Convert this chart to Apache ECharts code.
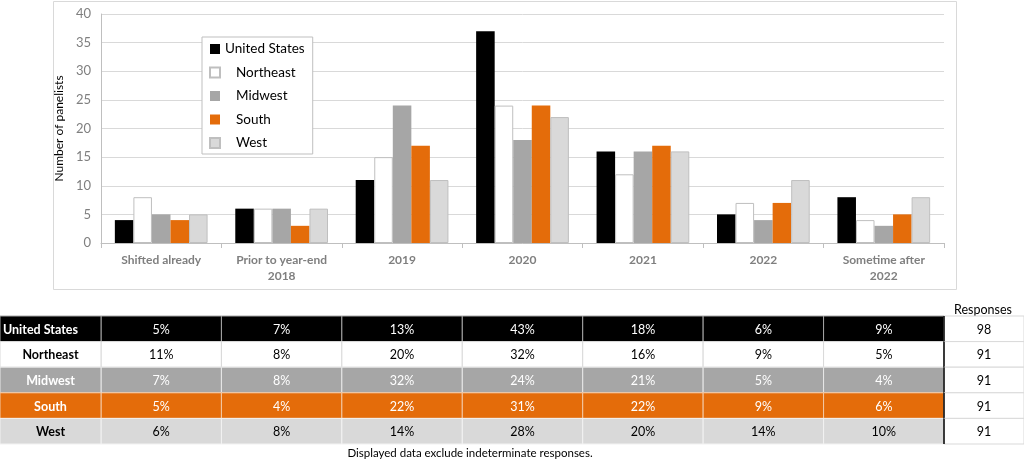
<!DOCTYPE html>
<html><head><meta charset="utf-8">
<script src="https://cdn.jsdelivr.net/npm/echarts@6/dist/echarts.min.js"></script>
<style>html,body{margin:0;padding:0;background:#fff}#c{width:1024px;height:459px}</style>
</head><body><div id="c"></div>
<script>
// ---- data ----
const categories = ['Shifted already', 'Prior to year-end\n2018', '2019', '2020', '2021', '2022', 'Sometime after\n2022'];
const regions = ['United States', 'Northeast', 'Midwest', 'South', 'West'];
const usCounts = [4, 6, 11, 37, 16, 5, 8];
const northeastCounts = [8, 6, 15, 24, 12, 7, 4];
const midwestCounts = [5, 6, 24, 18, 16, 4, 3];
const southCounts = [4, 3, 17, 24, 17, 7, 5];
const westCounts = [5, 6, 11, 22, 16, 11, 8];
const usPct = [5, 7, 13, 43, 18, 6, 9];
const northeastPct = [11, 8, 20, 32, 16, 9, 5];
const midwestPct = [7, 8, 32, 24, 21, 5, 4];
const southPct = [5, 4, 22, 31, 22, 9, 6];
const westPct = [6, 8, 14, 28, 20, 14, 10];
const responses = [98, 91, 91, 91, 91];
const yMin = 0, yMax = 40, yStep = 5;
const yAxisTitle = 'Number of panelists';
const responsesTitle = 'Responses';
const footnote = 'Displayed data exclude indeterminate responses.';

// ---- styles ----
const FONT = 'Lato, "Open Sans", sans-serif';
const fills = ['#000000', '#ffffff', '#a6a6a6', '#e46c0a', '#d9d9d9'];
const borders = ['#000000', '#bfbfbf', '#a6a6a6', '#e46c0a', '#bfbfbf'];
const rowText = ['#ffffff', '#000000', '#ffffff', '#ffffff', '#000000'];
const rowSep = ['#a6a6a6', '#d9d9d9', '#e8e8e8', '#f3c9a6', '#f2f2f2'];

const countsList = [usCounts, northeastCounts, midwestCounts, southCounts, westCounts];
const pctList = [usPct, northeastPct, midwestPct, southPct, westPct];

const barSeries = regions.map((r, i) => ({
  name: r, type: 'bar', xAxisIndex: 0, yAxisIndex: 0,
  data: countsList[i],
  barGap: '0%', barCategoryGap: '23%',
  itemStyle: { color: fills[i], borderColor: borders[i], borderWidth: (i === 1 || i === 4) ? 1 : 0 },
  emphasis: { disabled: true }
}));

const cellData = [];
pctList.forEach((arr, ri) => arr.forEach((v, ci) => cellData.push([ci, ri, v])));

function cellItem(params, api) {
  const ci = api.value(0), ri = api.value(1);
  const c = api.coord([ci, ri]); const s = api.size([1, 1]);
  return { type: 'group', children: [
    { type: 'rect', shape: { x: c[0] - s[0] / 2, y: c[1] - s[1] / 2, width: s[0], height: s[1] },
      style: { fill: fills[ri], stroke: rowSep[ri], lineWidth: 1 } },
    { type: 'text', style: { text: api.value(2) + '%', x: c[0], y: c[1] + 1, align: 'center', verticalAlign: 'middle',
      fill: rowText[ri], font: '12.5px ' + FONT } }
  ]};
}
function labelItem(params, api) {
  const ri = api.value(1);
  const c = api.coord([0, ri]); const s = api.size([1, 1]);
  const cs = params.coordSys;
  return { type: 'group', children: [
    { type: 'rect', shape: { x: 0, y: c[1] - s[1] / 2, width: cs.x, height: s[1] },
      style: { fill: fills[ri], stroke: rowSep[ri], lineWidth: 1 } },
    { type: 'text', style: { text: regions[ri], x: ri === 0 ? 3 : cs.x / 2, y: c[1] + 1, align: ri === 0 ? 'left' : 'center', verticalAlign: 'middle',
      fill: rowText[ri], font: 'bold 12.5px ' + FONT } }
  ]};
}
function respItem(params, api) {
  const ri = api.value(1);
  const c = api.coord([0, ri]); const s = api.size([1, 1]);
  const cs = params.coordSys;
  const x0 = cs.x + cs.width, w = 80;
  return { type: 'group', children: [
    { type: 'rect', shape: { x: x0, y: c[1] - s[1] / 2, width: w, height: s[1] },
      style: { fill: '#ffffff', stroke: '#d9d9d9', lineWidth: 1 } },
    { type: 'line', shape: { x1: x0, y1: c[1] - s[1] / 2, x2: x0, y2: c[1] + s[1] / 2 },
      style: { stroke: '#000000', lineWidth: 1.5 } },
    { type: 'text', style: { text: String(api.value(2)), x: x0 + w / 2, y: c[1] + 1, align: 'center', verticalAlign: 'middle',
      fill: '#000000', font: '12.5px ' + FONT } }
  ]};
}

const chart = echarts.init(document.getElementById('c'), null, { renderer: 'canvas' });
chart.setOption({
  animation: false,
  backgroundColor: '#ffffff',
  textStyle: { fontFamily: FONT },
  graphic: [
    { type: 'rect', z: -10, shape: { x: 53.5, y: 1.5, width: 903, height: 288 }, style: { fill: 'none', stroke: '#d9d9d9', lineWidth: 1 } },
    { type: 'text', style: { text: responsesTitle, x: 983, y: 310, align: 'center', verticalAlign: 'middle', fill: '#000', font: '12.5px ' + FONT } },
    { type: 'line', shape: { x1: 954, y1: 316.5, x2: 1012, y2: 316.5 }, style: { stroke: '#000', lineWidth: 1 } },
    { type: 'text', style: { text: footnote, x: 470, y: 453, align: 'center', verticalAlign: 'middle', fill: '#000', font: '11.5px ' + FONT } }
  ],
  legend: {
    orient: 'vertical', left: 202, top: 37, width: 114,
    padding: [5, 8, 4, 7], itemGap: 9.5, itemWidth: 10, itemHeight: 10,
    borderColor: '#bfbfbf', borderWidth: 1, backgroundColor: '#ffffff',
    textStyle: { fontSize: 13.5, color: '#000', fontFamily: FONT },
    data: regions.map((r, i) => i === 0 ? { name: r, icon: 'rect' } : { name: r, icon: 'rect', textStyle: { padding: [0, 0, 0, 11] } })
  },
  grid: [
    { left: 101, right: 80, top: 14, bottom: 216 },
    { left: 101, right: 80, top: 316, height: 128 }
  ],
  xAxis: [
    { type: 'category', gridIndex: 0, data: categories,
      axisLine: { lineStyle: { color: '#bfbfbf' } },
      axisTick: { show: true, length: 5, lineStyle: { color: '#bfbfbf' } },
      axisLabel: { color: '#7f7f7f', fontWeight: 'bold', fontSize: 12, lineHeight: 16, margin: 9, interval: 0 } },
    { type: 'category', gridIndex: 1, data: categories, show: false }
  ],
  yAxis: [
    { type: 'value', gridIndex: 0, min: yMin, max: yMax, interval: yStep,
      name: yAxisTitle, nameLocation: 'middle', nameGap: 27, nameRotate: 90,
      nameTextStyle: { color: '#000', fontSize: 12 },
      axisLine: { show: true, lineStyle: { color: '#bfbfbf' } },
      axisTick: { show: false },
      axisLabel: { color: '#7f7f7f', fontSize: 13, margin: 10 },
      splitLine: { lineStyle: { color: '#d9d9d9' } } },
    { type: 'category', gridIndex: 1, data: regions, inverse: true, show: false }
  ],
  series: barSeries.concat([
    { type: 'custom', xAxisIndex: 1, yAxisIndex: 1, renderItem: cellItem, data: cellData, silent: true },
    { type: 'custom', xAxisIndex: 1, yAxisIndex: 1, renderItem: labelItem, data: regions.map((r, i) => [0, i, r]), silent: true },
    { type: 'custom', xAxisIndex: 1, yAxisIndex: 1, renderItem: respItem, data: responses.map((v, i) => [0, i, v]), silent: true }
  ])
});
</script>
</body></html>
